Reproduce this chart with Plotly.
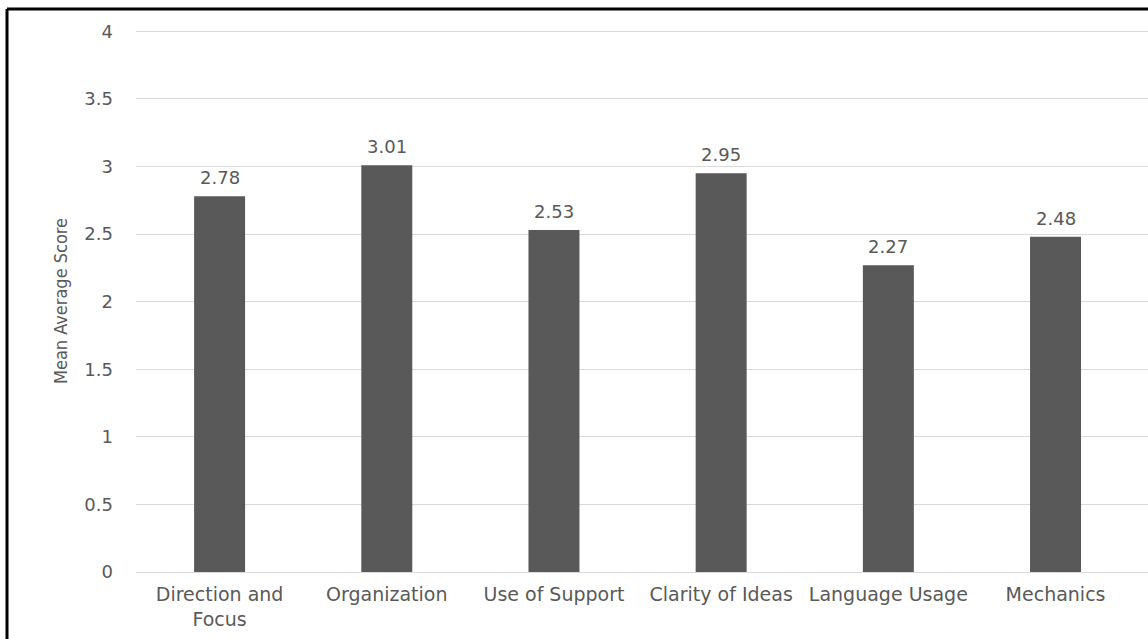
import plotly.graph_objects as go

categories = ["Direction and<br>Focus", "Organization", "Use of Support",
              "Clarity of Ideas", "Language Usage", "Mechanics"]
scores = [2.78, 3.01, 2.53, 2.95, 2.27, 2.48]
score_labels = ["2.78", "3.01", "2.53", "2.95", "2.27", "2.48"]
y_ticks = [0, 0.5, 1, 1.5, 2, 2.5, 3, 3.5, 4]
y_tick_labels = ["0", "0.5", "1", "1.5", "2", "2.5", "3", "3.5", "4"]

W, H = 1148, 639
L, R, T, B = 136, 0, 30, 67
pw, ph = W - L - R, H - T - B

FONT = "DejaVu Sans, Verdana, sans-serif"
GREY = "#595959"

fig = go.Figure()
fig.add_trace(go.Bar(
    x=categories, y=scores,
    marker=dict(color=GREY, line=dict(width=0)),
    hoverinfo="skip",
))
for c, v, s in zip(categories, scores, score_labels):
    fig.add_annotation(x=c, y=v, text=s, showarrow=False, yanchor="bottom",
                       yshift=6, font=dict(family=FONT, size=18, color=GREY))

fig.update_layout(
    width=W, height=H,
    margin=dict(l=L, r=R, t=T, b=B),
    paper_bgcolor="white", plot_bgcolor="white",
    bargap=0.695, showlegend=False,
    font=dict(family=FONT, size=18, color=GREY),
)
fig.update_yaxes(
    range=[0, 4.01], tickvals=y_ticks, ticktext=y_tick_labels,
    showgrid=True, gridcolor="#d9d9d9", gridwidth=1,
    zeroline=True, zerolinecolor="#d9d9d9", zerolinewidth=1,
    showline=False, ticks="", ticklabelstandoff=22,
    tickfont=dict(family=FONT, size=18, color=GREY),
    title=dict(text="Mean Average Score", standoff=12,
               font=dict(family="DejaVu Sans Condensed, Liberation Sans Narrow, sans-serif",
                         size=18, color=GREY)),
)
fig.update_xaxes(
    range=[-0.5, 5.553],
    showgrid=False, showline=False, ticks="", ticklabelstandoff=9,
    tickfont=dict(family=FONT, size=19, color=GREY),
    tickangle=0,
)

# outer frame (image is a crop: left and top edges visible)
x_left = (7 - L) / pw
y_top = 1 + (T - 9) / ph
y_bot = -(B + 2) / ph
x_right = (W - L + 2) / pw
fig.add_shape(type="line", xref="paper", yref="paper", x0=x_left, x1=x_left,
              y0=y_bot, y1=y_top, line=dict(color="black", width=3))
fig.add_shape(type="line", xref="paper", yref="paper", x0=x_left, x1=x_right,
              y0=y_top, y1=y_top, line=dict(color="black", width=3))

fig.write_html("out.html")
